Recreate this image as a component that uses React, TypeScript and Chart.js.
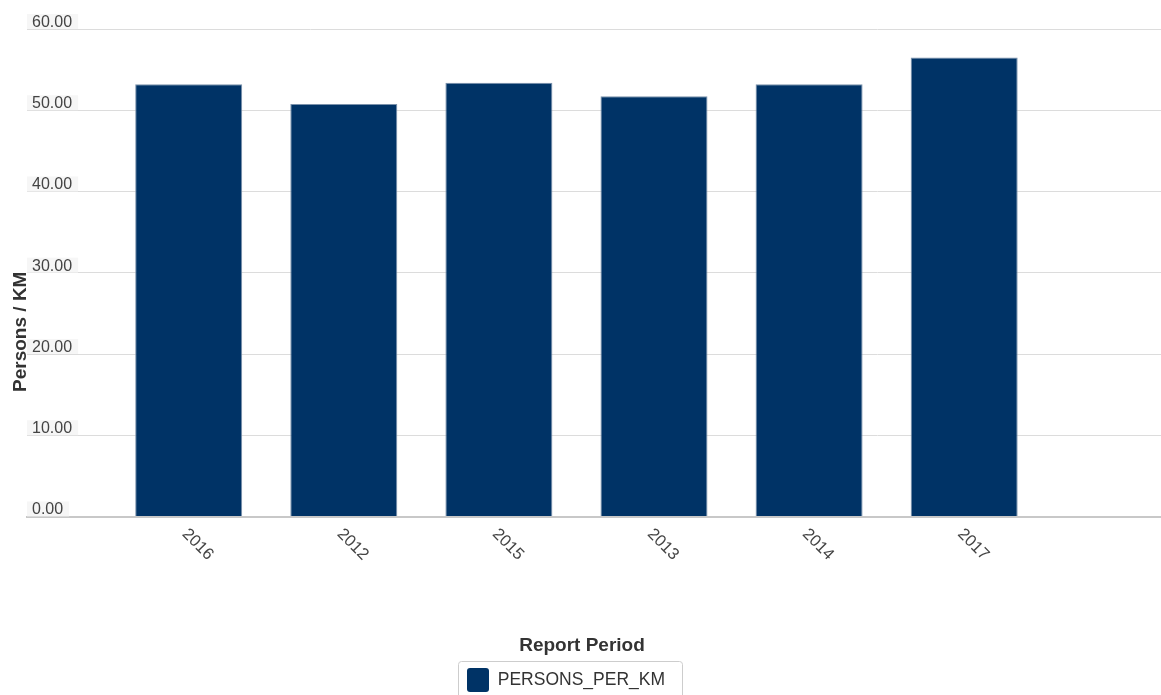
import React, { useEffect, useRef } from 'react';
import { Chart, registerables } from 'chart.js';

Chart.register(...registerables);

// ---- data ----
const categories = ['2016', '2012', '2015', '2013', '2014', '2017'];
const personsPerKm = [53.2, 50.78, 53.37, 51.72, 53.2, 56.49];
const yTickValues = [0, 10, 20, 30, 40, 50, 60];
const seriesLabel = 'PERSONS_PER_KM';
const xTitle = 'Report Period';
const yTitle = 'Persons / KM';

const FONT = '"Liberation Sans", Arial, Helvetica, sans-serif';

const decorPlugin = {
  id: 'decor',
  afterLayout(chart: any) {
    // place the legend a little left of centre, as in the reference
    const lg = chart.legend;
    if (lg && lg.legendHitBoxes && lg.legendHitBoxes.length) {
      const hb = lg.legendHitBoxes[0];
      const cur = (lg.left + lg.right - hb.width) / 2;
      const dx = 467 - cur;
      lg.left += dx;
      lg.right += dx;
    }
  },
  afterDraw(chart: any) {
    const { ctx, chartArea, scales } = chart;
    const xs = scales.x;
    ctx.save();
    // rotated category labels
    ctx.font = `16.5px ${FONT}`;
    ctx.fillStyle = '#444444';
    ctx.textAlign = 'left';
    ctx.textBaseline = 'middle';
    categories.forEach((c, i) => {
      const px = xs.getPixelForValue(i);
      ctx.save();
      ctx.translate(px - 4, chartArea.bottom + 15);
      ctx.rotate(Math.PI / 4);
      ctx.fillText(c, 0, 0);
      ctx.restore();
    });
    // x axis title
    ctx.font = `bold 19px ${FONT}`;
    ctx.fillStyle = '#333333';
    ctx.textAlign = 'center';
    ctx.textBaseline = 'middle';
    ctx.fillText(xTitle, chart.width / 2 + 1.5, chartArea.bottom + 129.5);
    // y axis title
    ctx.save();
    ctx.translate(20.5, (chartArea.top + chartArea.bottom) / 2 + 59);
    ctx.rotate(-Math.PI / 2);
    ctx.fillText(yTitle, 0, 0);
    ctx.restore();
    // legend frame
    const lg = chart.legend;
    if (lg && lg.legendHitBoxes && lg.legendHitBoxes.length) {
      const hb = lg.legendHitBoxes[0];
      const l = Math.round(hb.left - 9) + 0.5;
      const t = Math.round(hb.top - 7) + 0.5;
      const r = Math.round(hb.left + hb.width + 17) + 0.5;
      const h = hb.height + 30;
      ctx.beginPath();
      ctx.strokeStyle = '#cdcdcd';
      ctx.lineWidth = 1;
      if (ctx.roundRect) ctx.roundRect(l, t, r - l, h, 3);
      else ctx.rect(l, t, r - l, h);
      ctx.stroke();
    }
    ctx.restore();
  },
};

export default function App() {
  const ref = useRef<HTMLCanvasElement | null>(null);

  useEffect(() => {
    if (!ref.current) return;
    const chart = new Chart(ref.current, {
      type: 'bar',
      data: {
        datasets: [
          {
            label: seriesLabel,
            data: personsPerKm.map((v, i) => ({ x: i, y: v })),
            backgroundColor: '#003366',
            borderColor: '#7a91ab',
            borderWidth: 1,
            categoryPercentage: 1,
            barPercentage: 0.69,
          },
        ],
      },
      options: {
        responsive: false,
        animation: false,
        events: [],
        layout: { padding: { top: 29, left: 17, right: 0, bottom: 10 } },
        plugins: {
          tooltip: { enabled: false },
          legend: {
            display: true,
            position: 'bottom',
            labels: {
              boxWidth: 22,
              boxHeight: 24,
              padding: 10,
              useBorderRadius: true,
              borderRadius: 3,
              color: '#333333',
              font: { family: FONT, size: 17.5 },
              generateLabels: () => [
                {
                  text: seriesLabel,
                  fillStyle: '#003366',
                  strokeStyle: '#003366',
                  lineWidth: 0,
                  hidden: false,
                  datasetIndex: 0,
                  borderRadius: 3,
                  fontColor: '#333333',
                },
              ],
            },
          },
        },
        scales: {
          x: {
            type: 'linear',
            offset: false,
            min: -1.0426,
            max: 6.269,
            afterBuildTicks: (scale: any) => {
              scale.ticks = categories.map((_, i) => ({ value: i }));
            },
            afterFit: (scale: any) => {
              scale.height = 141.5;
            },
            ticks: { display: false },
            grid: { display: false, drawTicks: false, offset: false },
            border: { display: true, color: '#c8c8c8', width: 2 },
            title: { display: false },
          },
          y: {
            min: 0,
            max: 60,
            z: 1,
            afterBuildTicks: (scale: any) => {
              scale.ticks = yTickValues.map((v) => ({ value: v }));
            },
            ticks: {
              mirror: true,
              padding: 5,
              labelOffset: -6.5,
              color: '#444444',
              font: { family: FONT, size: 16, lineHeight: 0.9375 },
              showLabelBackdrop: true,
              backdropColor: 'rgba(244,244,244,0.85)',
              backdropPadding: { top: 1, bottom: -1, left: 5, right: 6 },
              callback: (v: any) => Number(v).toFixed(2),
            },
            grid: { color: '#dcdcdc', lineWidth: 1, drawTicks: false },
            border: { display: false },
            title: { display: false },
          },
        },
      },
      plugins: [decorPlugin],
    } as any);
    return () => chart.destroy();
  }, []);

  return (
    <div
      style={{
        position: 'fixed',
        left: 0,
        top: 0,
        width: 1161,
        height: 695,
        overflow: 'hidden',
        background: '#ffffff',
      }}
    >
      <canvas ref={ref} width={1161} height={712} style={{ display: 'block' }} />
    </div>
  );
}
